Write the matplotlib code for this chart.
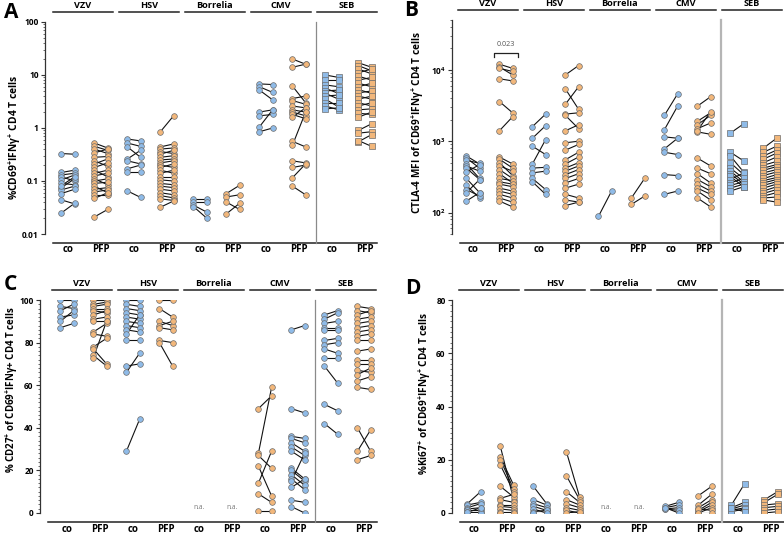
import numpy as np
import matplotlib
matplotlib.use('Agg')
import matplotlib.pyplot as plt
import matplotlib.transforms as mtransforms
from matplotlib.ticker import FixedLocator, FixedFormatter, MultipleLocator, LogLocator, NullFormatter

plt.rcParams['font.family'] = ['Open Sans', 'DejaVu Sans']
plt.rcParams['mathtext.fontset'] = 'custom'
plt.rcParams['mathtext.rm'] = 'Open Sans'
plt.rcParams['mathtext.bf'] = 'Open Sans:bold'

antigens = ['VZV', 'HSV', 'Borrelia', 'CMV', 'SEB']
conditions = ['co', 'PFP']

BLUE = '#8FBBE8'
ORANGE = '#F2B77B'

# each group: list of (left, right) paired values; order VZV co, VZV PFP, HSV co, ... SEB PFP
A_pairs = [
    [(0.33, 0.32), (0.145, 0.16), (0.13, 0.14), (0.12, 0.10), (0.105, 0.13), (0.09, 0.085),
     (0.075, 0.11), (0.068, 0.08), (0.058, 0.07), (0.044, 0.037), (0.025, 0.038), (0.082, 0.12)],
    [(0.52, 0.42), (0.45, 0.38), (0.40, 0.33), (0.34, 0.40), (0.28, 0.29), (0.24, 0.19), (0.21, 0.26),
     (0.18, 0.22), (0.16, 0.12), (0.14, 0.16), (0.125, 0.14), (0.11, 0.085), (0.10, 0.11), (0.09, 0.095),
     (0.08, 0.06), (0.07, 0.075), (0.062, 0.068), (0.055, 0.055), (0.047, 0.06), (0.021, 0.029)],
    [(0.62, 0.57), (0.52, 0.45), (0.44, 0.28), (0.26, 0.38), (0.24, 0.21), (0.17, 0.20), (0.15, 0.15),
     (0.065, 0.049)],
    [(0.85, 1.7), (0.44, 0.50), (0.40, 0.42), (0.36, 0.33), (0.32, 0.38), (0.28, 0.30), (0.25, 0.26),
     (0.22, 0.24), (0.20, 0.18), (0.18, 0.21), (0.16, 0.14), (0.14, 0.16), (0.12, 0.12), (0.105, 0.10),
     (0.09, 0.085), (0.08, 0.075), (0.07, 0.065), (0.06, 0.055), (0.053, 0.048), (0.046, 0.043),
     (0.032, 0.042)],
    [(0.046, 0.046), (0.040, 0.040), (0.035, 0.026), (0.033, 0.020)],
    [(0.058, 0.083), (0.050, 0.055), (0.040, 0.029), (0.024, 0.038)],
    [(6.8, 6.6), (6.0, 4.7), (5.2, 3.4), (2.0, 2.2), (1.7, 1.8), (1.05, 2.2), (0.85, 1.0)],
    [(20, 16), (14, 16), (6.2, 3.0), (3.6, 4.0), (3.3, 2.8), (2.6, 2.4), (2.2, 2.0), (2.0, 1.7),
     (1.8, 1.5), (1.6, 2.4), (0.56, 0.44), (0.47, 2.0), (0.24, 0.22), (0.18, 0.20), (0.115, 0.21),
     (0.08, 0.055)],
    [(10, 9), (8, 8), (6.5, 6), (5.6, 4.5), (5.0, 5.2), (4.5, 3.5), (4.0, 4.2), (3.5, 2.5), (3.0, 3.0),
     (2.6, 2.2), (2.3, 2.4)],
    [(17, 14), (15, 12), (13, 10.5), (11, 13), (9.5, 8), (8, 9), (7, 6), (6, 7), (5.3, 4.5), (4.6, 5),
     (4, 3.5), (3.5, 4), (3, 2.6), (2.6, 3), (2.2, 2.3), (1.9, 1.8), (1.6, 2), (0.9, 1.2), (0.8, 0.85),
     (0.55, 0.75), (0.58, 0.45)],
]

B_pairs = [
    [(620, 480), (580, 420), (540, 490), (480, 300), (450, 380), (420, 290), (370, 470), (300, 190),
     (240, 160), (210, 170), (190, 290), (145, 190)],
    [(12000, 10500), (11000, 8500), (10500, 9500), (7500, 7000), (3600, 2500), (1400, 2200), (600, 480),
     (560, 420), (500, 330), (450, 380), (400, 300), (350, 260), (300, 280), (270, 250), (250, 230),
     (220, 200), (200, 180), (180, 160), (160, 140), (145, 120)],
    [(1600, 2400), (1100, 1650), (850, 650), (480, 1050), (420, 430), (360, 380), (300, 210), (270, 180)],
    [(8500, 11500), (5400, 2800), (3300, 5800), (2400, 2500), (2300, 1500), (1400, 1700), (950, 1000),
     (750, 900), (550, 700), (480, 600), (420, 500), (380, 450), (340, 400), (300, 350), (260, 300),
     (220, 250), (180, 160), (150, 140), (125, 140)],
    [(88, 200)],
    [(160, 300), (130, 170)],
    [(2300, 4600), (1450, 3100), (1150, 1100), (780, 1100), (700, 650), (340, 330), (180, 200)],
    [(3100, 4200), (1900, 2500), (1700, 2300), (1500, 1800), (1350, 1250), (1400, 2600), (580, 450),
     (420, 350), (350, 260), (290, 230), (250, 200), (220, 180), (200, 150), (160, 120)],
    [(1300, 1750), (700, 530), (620, 370), (500, 340), (420, 300), (380, 270), (350, 250), (320, 230),
     (290, 360), (260, 300), (240, 270), (220, 250), (200, 230)],
    [(800, 1100), (700, 850), (620, 750), (560, 680), (500, 600), (460, 520), (420, 470), (390, 440),
     (360, 400), (330, 370), (300, 340), (280, 310), (260, 290), (240, 270), (220, 250), (200, 230),
     (185, 210), (170, 190), (160, 165), (150, 140)],
]

C_pairs = [
    [(100, 100), (97, 96), (95, 98), (92, 93), (90, 95), (87, 89)],
    [(100, 100), (98, 99), (97, 98), (96, 96), (95, 94), (93, 95), (91, 92), (90, 90), (85, 89),
     (84, 83), (78, 82), (77, 70), (74, 69), (73, 90)],
    [(100, 100), (98, 97), (96, 95), (94, 93), (92, 91), (90, 89), (88, 87), (86, 85), (84, 93),
     (81, 81), (69, 70), (66, 75), (29, 44)],
    [(100, 100), (96, 92), (90, 88), (88, 90), (87, 86), (81, 80), (80, 69)],
    [],
    [],
    [(49, 55), (28, 59), (27, 21), (22, 8), (14, 29), (9, 5), (1, 1)],
    [(86, 88), (49, 47), (36, 35), (35, 33), (33, 29), (31, 27), (29, 25), (21, 16), (20, 15), (18, 13),
     (16, 11), (15, 28), (12, 16), (6, 5), (3, 0)],
    [(93, 95), (91, 94), (89, 90), (87, 87), (86, 86), (81, 82), (79, 80), (77, 75), (73, 73), (69, 61),
     (51, 48), (42, 37)],
    [(97, 96), (95, 94), (93, 95), (91, 92), (89, 90), (87, 88), (85, 86), (83, 84), (81, 81), (76, 77),
     (72, 72), (70, 70), (67, 66), (65, 68), (62, 64), (59, 58), (40, 29), (29, 39), (25, 27)],
]

D_pairs = [
    [(3.5, 8), (3, 4), (2, 3.5), (1.5, 2), (1, 1), (0.5, 0.5), (0, 0), (0.2, 2)],
    [(25, 5), (21, 10.5), (20, 9), (18, 8), (10, 6), (5.5, 7), (5, 4), (3, 3), (2.5, 2), (1.5, 1),
     (0.5, 0.5), (0, 0)],
    [(10, 3.5), (5, 3), (3.5, 2), (2.5, 1), (1.5, 0), (0.5, 1), (0, 0)],
    [(23, 6), (14, 5), (8, 4), (5, 3), (3.5, 2), (2, 1), (1, 0), (0, 0.5)],
    [],
    [],
    [(2.5, 4), (2, 3), (1.5, 2), (1.5, 1), (2, 0)],
    [(6.5, 10), (3, 7), (2, 5), (1, 4), (0.5, 3), (0, 2), (1.5, 1), (0, 0)],
    [(3, 11), (2, 4), (1.5, 3), (1, 2), (0.5, 1.5), (1.8, 0.5)],
    [(5, 8), (4, 7), (3, 3.5), (2, 2.5), (1, 1.5), (0, 0.5)],
]

std_colors = [BLUE, ORANGE] * 5
C_colors = [BLUE, ORANGE, BLUE, ORANGE, BLUE, ORANGE, ORANGE, BLUE, BLUE, ORANGE]
sq_markers = ['o'] * 8 + ['s', 's']
circ_markers = ['o'] * 10

W, H = 784, 534
fig = plt.figure(figsize=(W / 100, H / 100), dpi=100)
PX = 33.0  # pixels per category step


def panel(rect, first_px, pairs, colors, markers, ylog, ylim, sep_style):
    l, t, r, b = rect
    ax = fig.add_axes([l / W, 1 - b / H, (r - l) / W, (b - t) / H])
    xmin = -(first_px - l) / PX
    ax.set_xlim(xmin, xmin + (r - l) / PX)
    if ylog:
        ax.set_yscale('log')
    ax.set_ylim(*ylim)
    for i, grp in enumerate(pairs):
        if not grp:
            continue
        arr = np.array(grp, dtype=float)
        xl, xr = i - 0.2, i + 0.2
        for lv, rv in arr:
            ax.plot([xl, xr], [lv, rv], color='#111111', lw=0.8, zorder=2)
        ms = 4.1 if markers[i] == 'o' else 3.9
        ax.plot(np.full(len(arr), xl), arr[:, 0], ls='none', marker=markers[i], ms=ms,
                mfc=colors[i], mec='#6e6e6e', mew=0.5, zorder=3)
        ax.plot(np.full(len(arr), xr), arr[:, 1], ls='none', marker=markers[i], ms=ms,
                mfc=colors[i], mec='#6e6e6e', mew=0.5, zorder=3)
    for s in ['top', 'right', 'bottom']:
        ax.spines[s].set_visible(False)
    ax.spines['left'].set_color('#333333')
    ax.spines['left'].set_linewidth(0.9)
    ax.set_xticks([])
    ax.tick_params(axis='y', which='major', length=3, width=0.8, labelsize=6, pad=1.5, color='#333333')
    ax.tick_params(axis='y', which='minor', length=1.6, width=0.5, color='#333333')
    trans = mtransforms.blended_transform_factory(ax.transData, ax.transAxes)
    yb = -9.0 / (b - t)
    ax.plot([xmin + 0.25, xmin + (r - l) / PX], [yb, yb], color='#222222', lw=1.1,
            transform=trans, clip_on=False)
    ax.plot([7.5, 7.5], [yb, 1.0], color=sep_style[0], lw=sep_style[1], transform=trans,
            clip_on=False)
    for k, name in enumerate(antigens):
        ax.plot([2 * k - 0.45, 2 * k + 1.35], [1 + 10.0 / (b - t)] * 2, color='#222222', lw=1.1,
                transform=trans, clip_on=False)
        ax.text(2 * k + 0.45, 1 + 16.5 / (b - t), name, ha='center', va='center', fontsize=6.6,
                fontweight='bold', transform=trans)
        for j, c in enumerate(conditions):
            ax.text(2 * k + j, -16.0 / (b - t), c, ha='center', va='center', fontsize=7,
                    fontweight='bold', transform=trans)
    return ax, trans


# A
axA, _ = panel((45, 22, 377, 234), 68, A_pairs, std_colors, sq_markers, True, (0.01, 100),
               ('#8a8a8a', 0.9))
axA.yaxis.set_major_locator(FixedLocator([0.01, 0.1, 1, 10, 100]))
axA.yaxis.set_major_formatter(FixedFormatter(['0.01', '0.1', '1', '10', '100']))
axA.yaxis.set_minor_locator(LogLocator(base=10, subs=np.arange(2, 10)))
axA.yaxis.set_minor_formatter(NullFormatter())

# B
axB, transB = panel((452, 20, 784, 234), 473, B_pairs, std_colors, sq_markers, True, (50, 50000),
                    ('#b5b5b5', 1.6))
axB.yaxis.set_major_locator(FixedLocator([100, 1000, 10000]))
axB.yaxis.set_major_formatter(FixedFormatter([r'$\mathbf{10^{2}}$', r'$\mathbf{10^{3}}$', r'$\mathbf{10^{4}}$']))
axB.yaxis.set_minor_locator(LogLocator(base=10, subs=np.arange(2, 10)))
axB.yaxis.set_minor_formatter(NullFormatter())
axB.plot([0.65, 0.65, 1.35, 1.35], [15000, 17500, 17500, 15000], color='#222222', lw=0.9)
axB.text(1.0, 23000, '0.023', ha='center', va='center', fontsize=5.2, color='#555555')

# C
axC, transC = panel((40, 300, 377, 513), 67, C_pairs, C_colors, circ_markers, False, (0, 100),
                    ('#8a8a8a', 0.9))
axC.set_yticks([0, 20, 40, 60, 80, 100])
axC.yaxis.set_minor_locator(MultipleLocator(2))
for j in (4, 5):
    axC.text(j, 2.5, 'n.a.', ha='center', va='center', fontsize=4.8, color='#777777')
axC.set_ylim(0, 100)

# D
axD, transD = panel((452, 300, 784, 513), 474, D_pairs, std_colors, sq_markers, False, (0, 80),
                    ('#b5b5b5', 1.6))
axD.set_yticks([0, 20, 40, 60, 80])
axD.yaxis.set_minor_locator(MultipleLocator(2))
for j in (4, 5):
    axD.text(j, 2.0, 'n.a.', ha='center', va='center', fontsize=4.8, color='#777777')
axD.set_ylim(0, 80)

for ax in (axA, axB, axC, axD):
    for lab in ax.get_yticklabels():
        lab.set_fontweight('bold')
    ax.spines['left'].set_bounds(*ax.get_ylim())

# y labels
ylabs = [
    (15, 137, 7.4, r'%CD69$^{\mathbf{+}}$IFN$\mathbf{\gamma}^{\mathbf{+}}$ CD4 T cells'),
    (418, 122, 7.2, r'CTLA-4 MFI of CD69$^{\mathbf{+}}$IFN$\mathbf{\gamma}^{\mathbf{+}}$ CD4 T cells'),
    (12, 390, 7.0, r'% CD27$^{\mathbf{+}}$ of CD69$^{\mathbf{+}}$IFN$\mathbf{\gamma}$+ CD4 T cells'),
    (424, 393, 7.2, r'%Ki67$^{\mathbf{+}}$ of CD69$^{\mathbf{+}}$IFN$\mathbf{\gamma}^{\mathbf{+}}$ CD4 T cells'),
]
for x, y, fs, s in ylabs:
    fig.text(x / W, 1 - y / H, s, rotation=90, ha='center', va='center', fontsize=fs,
             fontweight='bold')

for x, y, s in [(11, 12, 'A'), (411, 11, 'B'), (10, 284, 'C'), (413, 288, 'D')]:
    fig.text(x / W, 1 - y / H, s, ha='center', va='center', fontsize=15, fontweight='bold')

fig.savefig('out.png', dpi=100)
